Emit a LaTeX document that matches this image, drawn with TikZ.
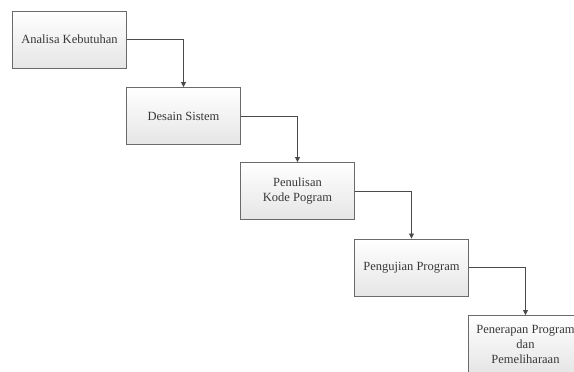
\documentclass[tikz,border=0pt]{standalone}
\usepackage{fontspec}
\setmainfont{Liberation Serif}
\usetikzlibrary{arrows.meta}
\definecolor{txt}{HTML}{383838}
\definecolor{edge}{HTML}{6A6A6A}
\definecolor{lne}{HTML}{4A4A4A}
\begin{document}
\begin{tikzpicture}[x=1pt,y=-1pt,
  stepbox/.style={draw=edge, line width=0.9pt, rectangle, top color=white, bottom color=black!10,
    minimum width=114pt, minimum height=57pt, inner sep=0pt, align=center,
    text=txt, font=\fontsize{12.5}{15}\selectfont},
  conn/.style={draw=lne, line width=0.8pt, -{Triangle[length=5pt,width=5pt]}}]
\useasboundingbox (0,0) rectangle (574,372);
\clip (0,0) rectangle (574,372);
\node[stepbox] (a) at (69.5,39.5) {Analisa Kebutuhan};
\node[stepbox] (b) at (183.5,116) {Desain Sistem};
\node[stepbox] (c) at (297.5,191) {Penulisan\\Kode Pogram};
\node[stepbox] (d) at (411.5,267.5) {Pengujian Program};
\node[stepbox] (e) at (525.5,344) {Penerapan Program\\dan\\Pemeliharaan};
\draw[conn] (a.east) -| (b.north);
\draw[conn] (b.east) -| (c.north);
\draw[conn] (c.east) -| (d.north);
\draw[conn] (d.east) -| (e.north);
\end{tikzpicture}
\end{document}
